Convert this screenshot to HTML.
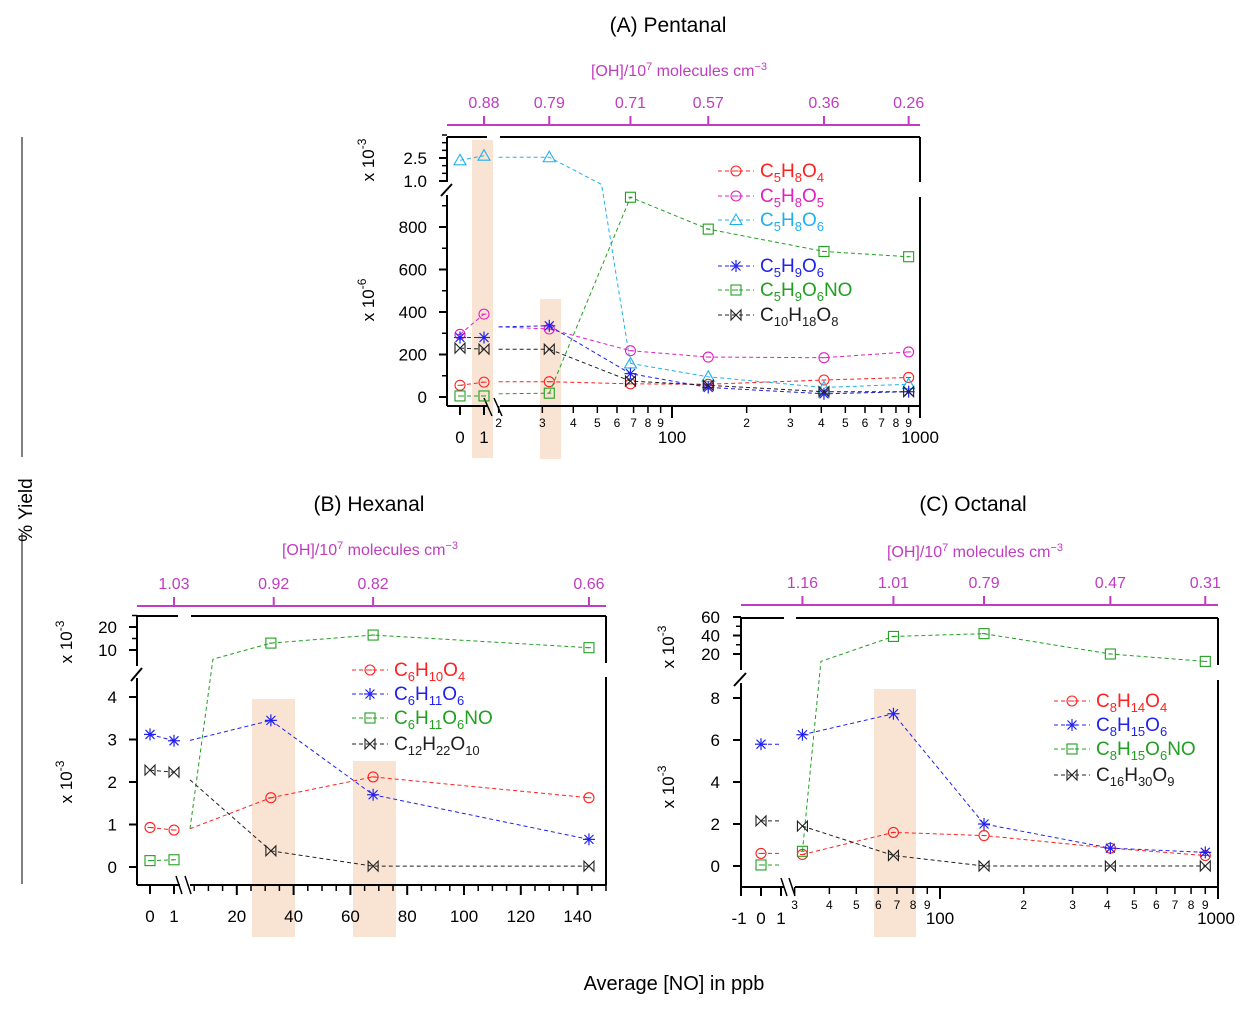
<!DOCTYPE html>
<html><head><meta charset="utf-8"><style>
html,body{margin:0;padding:0;background:#fff;}
svg{display:block;font-family:"Liberation Sans",sans-serif;}
</style></head><body>
<svg id="fig" width="1250" height="1010" viewBox="0 0 1250 1010" xmlns="http://www.w3.org/2000/svg"></svg>
<script>
// ---------- DATA ----------
const catsA = [0, 1, 32, 68, 140, 410, 900];
const ohA = ["0.88", "0.79", "0.71", "0.57", "0.36", "0.26"];
const ohPosA = [1, 32, 68, 140, 410, 900];
const A_C5H8O4 = [55, 70, 72, 62, 60, 80, 92];
const A_C5H8O5 = [295, 390, 320, 218, 188, 185, 212];
const A_C5H8O6 = [2350, 2650, 2550, 158, 95, 45, 60];
const A_C5H9O6 = [280, 280, 335, 110, 45, 15, 25];
const A_C5H9O6NO = [5, 5, 18, 940, 790, 685, 660];
const A_C10H18O8 = [230, 225, 225, 75, 55, 25, 25];
const gapA = [72, 330, 2550, 330, 15, 225];
const catsB = [0, 1, 32, 68, 144];
const ohB = ["1.03", "0.92", "0.82", "0.66"];
const ohPosB = [1, 33, 68, 144];
const B_C6H10O4 = [0.93, 0.87, 1.63, 2.12, 1.63];
const B_C6H11O6 = [3.12, 2.97, 3.45, 1.7, 0.65];
const B_C6H11O6NO = [0.15, 0.17, 13, 16.5, 11];
const B_C12H22O10 = [2.28, 2.23, 0.38, 0.02, 0.02];
const gapB = [0.9, 2.98, 0.9, 2.05];
const catsC = [0, 32, 68, 144, 410, 900];
const ohC = ["1.16", "1.01", "0.79", "0.47", "0.31"];
const ohPosC = [32, 68, 144, 410, 900];
const C_C8H14O4 = [0.6, 0.55, 1.6, 1.45, 0.85, 0.5];
const C_C8H15O6 = [5.8, 6.25, 7.25, 2.0, 0.85, 0.65];
const C_C8H15O6NO = [0.05, 0.7, 39, 42, 20, 12];
const C_C16H30O9 = [2.15, 1.9, 0.5, 0, 0, 0];

// ---------- SCALES ----------
const L = Math.log10;
function xA(v){ return v<=1.5 ? 460+24*v : 424+248*(L(v)-1); }
function yA(v){ return v>1000 ? 181-(v/1000-1)*15.33 : 397-v*0.2125; }
function xB(v){ return v<=1.5 ? 150+24*v : 180+2.84*v; }
function yB(v){ return v>=5 ? 650-(v-10)*2.3 : 867-v*42.5; }
function xC(v){ return v<=1.5 ? 761+20*v : 940+278*(L(v)-2); }
function yC(v){ return v>=9 ? 654-(v-20)*0.925 : 866-v*21; }

const NS = "http://www.w3.org/2000/svg";
const svg = document.getElementById('fig');
function el(tag, attrs, parent){
  const e = document.createElementNS(NS, tag);
  for (const k in attrs) e.setAttribute(k, attrs[k]);
  (parent||svg).appendChild(e);
  return e;
}
function line(x1,y1,x2,y2,stroke,w,p,dash){
  const e = el('line',{x1,y1,x2,y2,stroke,'stroke-width':w||1},p);
  if(dash) e.setAttribute('stroke-dasharray',dash);
  return e;
}
function text(x,y,s,size,fill,anchor,p){
  const e = el('text',{x,y,'font-size':size,fill:fill||'#000','text-anchor':anchor||'middle'},p);
  e.textContent = s;
  return e;
}
function marker(type,x,y,color,p){
  const g = el('g',{stroke:color,fill:'none','stroke-width':1.1},p);
  if(type==='circle'){ el('circle',{cx:x,cy:y,r:5},g); line(x-2.5,y,x+2.5,y,color,1,g); }
  else if(type==='tri'){ el('path',{d:`M${x},${y-6}L${x+6},${y+4.5}L${x-6},${y+4.5}Z`},g); }
  else if(type==='star'){ line(x-6,y,x+6,y,color,1.2,g); line(x,y-6,x,y+6,color,1.2,g); line(x-4.5,y-4.5,x+4.5,y+4.5,color,1.2,g); line(x-4.5,y+4.5,x+4.5,y-4.5,color,1.2,g); }
  else if(type==='square'){ el('rect',{x:x-5,y:y-5,width:10,height:10},g); line(x-2,y,x+2,y,color,1,g); }
  else if(type==='bowtie'){ el('path',{d:`M${x-5},${y-5}L${x+5},${y+5}L${x+5},${y-5}L${x-5},${y+5}Z`},g); }
  return g;
}
function formula(x,y,parts,color,p){
  const t = el('text',{x,y,'font-size':19,fill:color,'text-anchor':'start'},p);
  let pending = 0;
  parts.forEach(s=>{
    const m = s.match(/^([A-Za-z]+)(\d*)$/);
    const a = document.createElementNS(NS,'tspan'); a.setAttribute('dy',pending); a.textContent = m[1]; t.appendChild(a);
    pending = 0;
    if(m[2]){ const b = document.createElementNS(NS,'tspan'); b.setAttribute('font-size',13); b.setAttribute('dy',5); b.textContent=m[2]; t.appendChild(b); pending=-5; }
  });
  return t;
}
function legendEntry(x,y,type,color,parts,name,p){
  const g = el('g',{},p);
  
  
  line(x,y,x+36,y,color,1,g,'4,3');
  marker(type,x+18,y,color,g);
  formula(x+42,y+6,parts,color,g);
}
function series(p,name,cats,vals,xf,yf,type,color,opts){
  const g = el('g',{},p);
  
  
  const pts = cats.map((c,i)=>[xf(c),yf(vals[i])]);
  let segs = [];
  if(opts.pre){ segs.push([pts[0],pts[1]]); }
  if(opts.startGap!==undefined){ segs.push([[opts.gapX, yf(opts.startGap)], ...(opts.extra||[]).map(e=>[xf(e[0]),yf(e[1])]), pts[opts.from]]); }
  if(opts.leadTo){ segs.push([pts[0],[opts.leadTo,pts[0][1]]]); }
  segs.push(pts.slice(opts.from));
  segs.forEach(s=>{
    const path = el('polyline',{points:s.map(q=>q.join(',')).join(' '),fill:'none',stroke:color,'stroke-width':1,'stroke-dasharray':'4,3'},g);
    
    
  });
  pts.forEach(q=>{
    const m = marker(type,q[0],q[1],color,g);
    
    
  });
}
const MAG = '#c03cc0';
function topAxis(p,x1,x2,y,labels,pos,xf){
  const g = el('g',{},p);
  
  
  line(x1,y,x2,y,MAG,2,g);
  labels.forEach((s,i)=>{ const x=xf(pos[i]); line(x,y,x,y-9,MAG,2,g); text(x,y-17,s,16,MAG,'middle',g); });
}
function band(p,x,y,w,h){
  const r = el('rect',{x,y,width:w,height:h,fill:'#f9e4d4'},p);
  
  
}
function ytitle(p,x,y,exp){
  const t = el('text',{x:0,y:0,'font-size':17,transform:`translate(${x},${y}) rotate(-90)`,'text-anchor':'middle'},p);
  
  
  const a=document.createElementNS(NS,'tspan'); a.textContent='x 10'; t.appendChild(a);
  const b=document.createElementNS(NS,'tspan'); b.setAttribute('font-size',12); b.setAttribute('dy',-8); b.textContent=exp; t.appendChild(b);
}

// ---------- GLOBAL TEXT ----------
const gg = el('g',{});


line(22,137,22,457,'#000',1,gg); line(22,533,22,884,'#000',1,gg);
const yl = el('text',{x:0,y:0,'font-size':19,transform:'translate(32,510) rotate(-90)','text-anchor':'middle'},gg);
yl.textContent='% Yield';


const xl = text(674,990,'Average [NO] in ppb',20,'#000','middle',gg);


function ohTitle(x,y){
  const t = el('text',{x,y,'font-size':16,fill:MAG,'text-anchor':'middle'},gg);
  
  
  const parts=[['[OH]/10',0,16],['7',-6,11],[' molecules cm',6,16],['\u22123',-6,11]];
  parts.forEach(q=>{const s=document.createElementNS(NS,'tspan'); s.setAttribute('dy',q[1]); s.setAttribute('font-size',q[2]); s.textContent=q[0]; t.appendChild(s);});
}

// ================= PANEL A =================
const pA = el('g',{});


band(pA,472,140,21,318); band(pA,540,299,21,160);
text(668,32,'(A) Pentanal',21,'#000','middle',pA);
ohTitle(679,76);
topAxis(pA,447,920,125,ohA,ohPosA,xA);
line(447,137,447,182,'#000',2,pA); line(447,195,447,406,'#000',2,pA);
line(441,196,452,184,'#000',2,pA);
line(447,137,487,137,'#000',2,pA); line(500,137,920,137,'#000',2,pA);
line(920,137,920,182,'#000',2,pA); line(920,197,920,406,'#000',2,pA);
line(447,406,488,406,'#000',2,pA); line(500,406,920,406,'#000',2,pA);
line(484,398,492,416,'#000',1.5,pA); line(494,398,502,416,'#000',1.5,pA);
[0,200,400,600,800].forEach(v=>{ line(447,yA(v),439,yA(v),'#000',2,pA); text(427,yA(v)+6,String(v),17,'#000','end',pA); });
[100,300,500,700,900].forEach(v=>line(447,yA(v),442,yA(v),'#000',1.5,pA));
[1500,2000,3000,3500,4000].forEach(v=>line(447,yA(v),442,yA(v),'#000',1.5,pA));
[[1000,'1.0'],[2500,'2.5']].forEach(q=>{ line(447,yA(q[0]+1),439,yA(q[0]+1),'#000',2,pA); text(427,yA(q[0]+1)+6,q[1],17,'#000','end',pA); });
ytitle(pA,374,160,'-3'); ytitle(pA,374,300,'-6');
[0,1].forEach(v=>{ line(xA(v),406,xA(v),415,'#000',2,pA); text(xA(v),443,String(v),17,'#000','middle',pA); });
[20,30,40,50,60,70,80,90,200,300,400,500,600,700,800,900].forEach(v=>{ const d=String(v)[0]; line(xA(v),406,xA(v),413,'#000',1.5,pA); text(xA(v),427,d,12,'#000','middle',pA); });
[100,1000].forEach(v=>{ line(xA(v),406,xA(v),418,'#000',2,pA); text(xA(v),443,String(v),17,'#000','middle',pA); });
const gxA = xA(20);
series(pA,'series-c5h8o4',catsA,A_C5H8O4,xA,yA,'circle','#ff2020',{pre:1,from:2,startGap:gapA[0],gapX:gxA});
series(pA,'series-c5h8o5',catsA,A_C5H8O5,xA,yA,'circle','#e020c0',{pre:1,from:2,startGap:gapA[1],gapX:gxA});
series(pA,'series-c5h8o6',catsA,A_C5H8O6,xA,yA,'tri','#20b0f0',{pre:1,from:3,startGap:gapA[2],gapX:gxA,extra:[[32,2550],[52,1000]]});
series(pA,'series-c5h9o6',catsA,A_C5H9O6,xA,yA,'star','#2020f0',{pre:1,from:2,startGap:gapA[3],gapX:gxA});
series(pA,'series-c5h9o6no',catsA,A_C5H9O6NO,xA,yA,'square','#20a020',{pre:1,from:2,startGap:gapA[4],gapX:gxA});
series(pA,'series-c10h18o8',catsA,A_C10H18O8,xA,yA,'bowtie','#202020',{pre:1,from:2,startGap:gapA[5],gapX:gxA});
legendEntry(718,171,'circle','#ff2020',['C5','H8','O4'],'legend-c5h8o4',pA);
legendEntry(718,196,'circle','#e020c0',['C5','H8','O5'],'legend-c5h8o5',pA);
legendEntry(718,220,'tri','#20b0f0',['C5','H8','O6'],'legend-c5h8o6',pA);
legendEntry(718,266,'star','#2020f0',['C5','H9','O6'],'legend-c5h9o6',pA);
legendEntry(718,290,'square','#20a020',['C5','H9','O6','NO'],'legend-c5h9o6no',pA);
legendEntry(718,315,'bowtie','#202020',['C10','H18','O8'],'legend-c10h18o8',pA);

// ================= PANEL B =================
const pB = el('g',{});


band(pB,252,699,43,238); band(pB,353,761,43,176);
text(369,511,'(B) Hexanal',21,'#000','middle',pB);
ohTitle(370,555);
topAxis(pB,137,606,606,ohB,ohPosB,xB);
line(137,616,137,666,'#000',2,pB); line(137,678,137,885,'#000',2,pB);
line(131,681,142,668,'#000',2,pB);
line(137,616,178,616,'#000',2,pB); line(191,616,606,616,'#000',2,pB);
line(606,616,606,663,'#000',2,pB); line(606,677,606,885,'#000',2,pB);
line(137,885,180,885,'#000',2,pB); line(190,885,606,885,'#000',2,pB);
line(176,876,182,894,'#000',1.5,pB); line(185,876,191,894,'#000',1.5,pB);
[0,1,2,3,4].forEach(v=>{ line(137,yB(v),129,yB(v),'#000',2,pB); text(117,yB(v)+6,String(v),17,'#000','end',pB); });
[10,20].forEach(v=>{ line(137,yB(v),129,yB(v),'#000',2,pB); text(117,yB(v)+6,String(v),17,'#000','end',pB); });
[15,25].forEach(v=>line(137,yB(v),132,yB(v),'#000',1.5,pB));
ytitle(pB,72,642,'-3'); ytitle(pB,72,782,'-3');
[0,1].forEach(v=>{ line(xB(v),885,xB(v),894,'#000',2,pB); text(xB(v),922,String(v),17,'#000','middle',pB); });
for(let v=5; v<=150; v+=5){ const major = v%20===0; line(xB(v),885,xB(v),major?895:891,'#000',major?2:1.5,pB); if(major) text(xB(v),922,String(v),17,'#000','middle',pB); }
const gxB = 190;
series(pB,'series-c6h10o4',catsB,B_C6H10O4,xB,yB,'circle','#ff2020',{pre:1,from:2,startGap:gapB[0],gapX:gxB});
series(pB,'series-c6h11o6',catsB,B_C6H11O6,xB,yB,'star','#2020f0',{pre:1,from:2,startGap:gapB[1],gapX:gxB});
series(pB,'series-c6h11o6no',catsB,B_C6H11O6NO,xB,yB,'square','#20a020',{pre:1,from:2,startGap:gapB[2],gapX:gxB,extra:[[11.6,6]]});
series(pB,'series-c12h22o10',catsB,B_C12H22O10,xB,yB,'bowtie','#202020',{pre:1,from:2,startGap:gapB[3],gapX:gxB});
legendEntry(352,670,'circle','#ff2020',['C6','H10','O4'],'legend-c6h10o4',pB);
legendEntry(352,694,'star','#2020f0',['C6','H11','O6'],'legend-c6h11o6',pB);
legendEntry(352,718,'square','#20a020',['C6','H11','O6','NO'],'legend-c6h11o6no',pB);
legendEntry(352,744,'bowtie','#202020',['C12','H22','O10'],'legend-c12h22o10',pB);

// ================= PANEL C =================
const pC = el('g',{});


band(pC,874,689,42,248);
text(973,511,'(C) Octanal',21,'#000','middle',pC);
ohTitle(975,557);
topAxis(pC,741,1218,605,ohC,ohPosC,xC);
line(741,618,741,670,'#000',2,pC); line(741,683,741,887,'#000',2,pC);
line(734,686,746,673,'#000',2,pC);
line(741,618,784,618,'#000',2,pC); line(796,618,1218,618,'#000',2,pC);
line(1218,618,1218,665,'#000',2,pC); line(1218,680,1218,887,'#000',2,pC);
line(741,887,784,887,'#000',2,pC); line(795,887,1218,887,'#000',2,pC);
line(781,878,787,896,'#000',1.5,pC); line(789,878,795,896,'#000',1.5,pC);
[0,2,4,6,8].forEach(v=>{ line(741,yC(v),733,yC(v),'#000',2,pC); text(720,yC(v)+6,String(v),17,'#000','end',pC); });
[20,40,60].forEach(v=>{ line(741,yC(v),733,yC(v),'#000',2,pC); text(720,yC(v)+6,String(v),17,'#000','end',pC); });
[30,50].forEach(v=>line(741,yC(v),736,yC(v),'#000',1.5,pC));
ytitle(pC,674,647,'-3'); ytitle(pC,674,787,'-3');
[-1,0,1].forEach(v=>{ line(xC(v),887,xC(v),896,'#000',2,pC); text(xC(v)-(v===-1?2:0),924,String(v),17,'#000','middle',pC); });
[30,40,50,60,70,80,90,200,300,400,500,600,700,800,900].forEach(v=>{ const d=String(v)[0]; line(xC(v),887,xC(v),894,'#000',1.5,pC); text(xC(v),909,d,12,'#000','middle',pC); });
[100,1000].forEach(v=>{ line(xC(v),887,xC(v),899,'#000',2,pC); text(xC(v)+(v===1000?-2:0),924,String(v),17,'#000','middle',pC); });
series(pC,'series-c8h14o4',catsC,C_C8H14O4,xC,yC,'circle','#ff2020',{leadTo:782,from:1});
series(pC,'series-c8h15o6',catsC,C_C8H15O6,xC,yC,'star','#2020f0',{leadTo:782,from:1});
series(pC,'series-c8h15o6no',catsC,C_C8H15O6NO,xC,yC,'square','#20a020',{leadTo:782,from:2,startGap:C_C8H15O6NO[1],gapX:xC(32),extra:[[37.3,12]]});
series(pC,'series-c16h30o9',catsC,C_C16H30O9,xC,yC,'bowtie','#202020',{leadTo:782,from:1});
legendEntry(1054,701,'circle','#ff2020',['C8','H14','O4'],'legend-c8h14o4',pC);
legendEntry(1054,725,'star','#2020f0',['C8','H15','O6'],'legend-c8h15o6',pC);
legendEntry(1054,749,'square','#20a020',['C8','H15','O6','NO'],'legend-c8h15o6no',pC);
legendEntry(1054,775,'bowtie','#202020',['C16','H30','O9'],'legend-c16h30o9',pC);
</script>
</body></html>
